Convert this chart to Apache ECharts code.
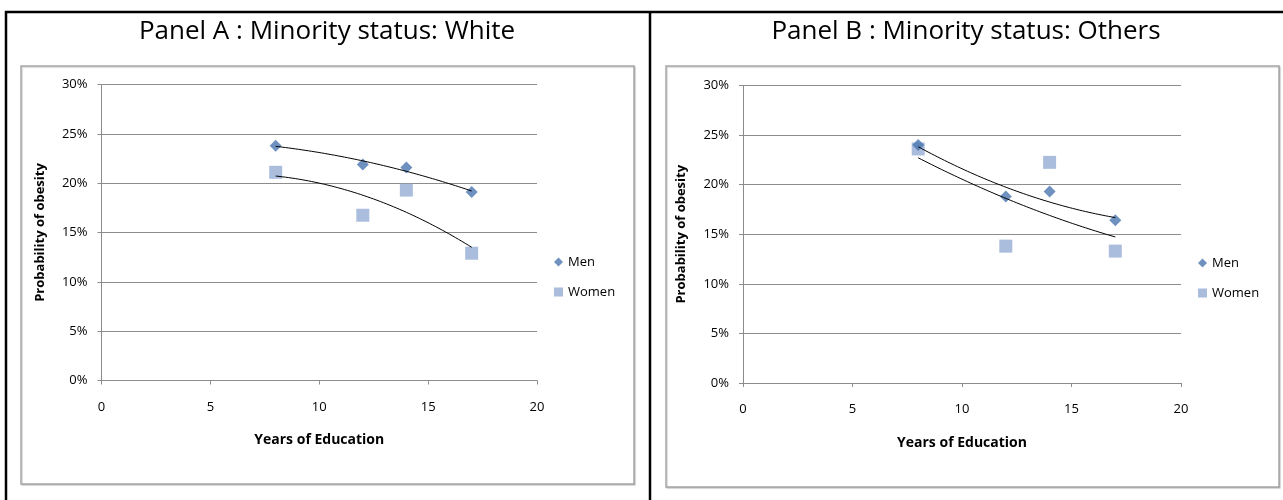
<!DOCTYPE html>
<html>
<head>
<meta charset="utf-8">
<script src="https://cdn.jsdelivr.net/npm/echarts@6/dist/echarts.min.js"></script>
<style>
  html, body { margin: 0; padding: 0; background: #fff; }
  #chart { width: 1283px; height: 500px; }
</style>
</head>
<body>
<div id="chart"></div>
<script>
// Years of schooling at which obesity probability was estimated
const years = [8, 12, 14, 17];

// Panel A (White): probability of obesity, %
const whiteMen = [23.8, 21.9, 21.6, 19.1];
const whiteWomen = [21.1, 16.75, 19.3, 12.9];

// Panel B (Others): probability of obesity, %
const otherMen = [24.0, 18.8, 19.3, 16.4];
const otherWomen = [23.6, 13.8, 22.25, 13.3];

const panelTitles = ['Panel A : Minority status: White', 'Panel B : Minority status: Others'];
const seriesNames = ['Men', 'Women'];
const xTitle = 'Years of Education';
const yTitle = 'Probability of obesity';

const FONT = '"Open Sans", "Noto Sans", sans-serif';
const MEN_COLOR = '#4A76B0';
const WOMEN_COLOR = '#96ADD5';
const GRID_GREY = '#8C8C8C';

// Second-order polynomial least-squares trendline, sampled between the first and last x
function quadTrend(xs, ys, steps) {
  const n = xs.length;
  const s = [0, 0, 0, 0, 0], t = [0, 0, 0];
  for (let i = 0; i < n; i++) {
    let p = 1;
    for (let k = 0; k <= 4; k++) { s[k] += p; if (k <= 2) t[k] += p * ys[i]; p *= xs[i]; }
  }
  // Solve the 3x3 normal equations with Cramer's rule
  const M = [[s[0], s[1], s[2]], [s[1], s[2], s[3]], [s[2], s[3], s[4]]];
  const det3 = m => m[0][0] * (m[1][1] * m[2][2] - m[1][2] * m[2][1])
    - m[0][1] * (m[1][0] * m[2][2] - m[1][2] * m[2][0])
    + m[0][2] * (m[1][0] * m[2][1] - m[1][1] * m[2][0]);
  const D = det3(M);
  const coef = [0, 1, 2].map(c => det3(M.map((row, r) => row.map((v, j) => j === c ? t[r] : v))) / D);
  const x0 = Math.min(...xs), x1 = Math.max(...xs);
  const out = [];
  for (let i = 0; i <= steps; i++) {
    const x = x0 + (x1 - x0) * i / steps;
    out.push([x, coef[0] + coef[1] * x + coef[2] * x * x]);
  }
  return out;
}

const pairs = (xs, ys) => xs.map((x, i) => [x, ys[i]]);

const grids = [
  { left: 101.5, top: 84.5, width: 435.5, height: 296 },
  { left: 743, top: 85.5, width: 438, height: 297.5 }
];

function xAxisFor(g) {
  return {
    gridIndex: g, type: 'value', min: 0, max: 20, interval: 5,
    name: xTitle, nameLocation: 'middle', nameGap: 53,
    nameTextStyle: { fontFamily: FONT, fontSize: 14, fontWeight: 'bold', color: '#000' },
    axisLine: { lineStyle: { color: GRID_GREY, width: 1 } },
    axisTick: { show: true, length: 4, lineStyle: { color: GRID_GREY } },
    axisLabel: { fontFamily: FONT, fontSize: 13, color: '#000', margin: 20 },
    splitLine: { show: false }
  };
}
function yAxisFor(g) {
  return {
    gridIndex: g, type: 'value', min: 0, max: 30, interval: 5,
    name: yTitle, nameLocation: 'middle', nameGap: 55, nameRotate: 90,
    nameTextStyle: { fontFamily: FONT, fontSize: 13, fontWeight: 'bold', color: '#000' },
    axisLine: { show: true, lineStyle: { color: GRID_GREY, width: 1 } },
    axisTick: { show: true, length: 4, lineStyle: { color: GRID_GREY } },
    axisLabel: { fontFamily: FONT, fontSize: 13, color: '#000', margin: 14, formatter: v => v + '%' },
    splitLine: { show: true, lineStyle: { color: GRID_GREY, width: 1 } }
  };
}

function panelSeries(g, men, women) {
  return [
    { name: 'Men', type: 'scatter', xAxisIndex: g, yAxisIndex: g, data: pairs(years, men),
      symbol: 'diamond', symbolSize: [12, 12], itemStyle: { color: MEN_COLOR }, z: 3 },
    { name: 'Women', type: 'scatter', xAxisIndex: g, yAxisIndex: g, data: pairs(years, women),
      symbol: 'rect', symbolSize: [13, 13], itemStyle: { color: WOMEN_COLOR }, z: 2 },
    { name: 'Men trend', type: 'line', xAxisIndex: g, yAxisIndex: g, data: quadTrend(years, men, 60),
      showSymbol: false, symbol: 'none', lineStyle: { color: '#000', width: 1 }, z: 4, silent: true },
    { name: 'Women trend', type: 'line', xAxisIndex: g, yAxisIndex: g, data: quadTrend(years, women, 60),
      showSymbol: false, symbol: 'none', lineStyle: { color: '#000', width: 1 }, z: 4, silent: true }
  ];
}

function legendAt(left, top) {
  return {
    left: left, top: top, orient: 'vertical', itemGap: 14, itemWidth: 9, itemHeight: 9,
    textStyle: { fontFamily: FONT, fontSize: 13, color: '#000', lineHeight: 16 },
    data: [
      { name: seriesNames[0], icon: 'diamond', itemStyle: { color: MEN_COLOR } },
      { name: seriesNames[1], icon: 'rect', itemStyle: { color: WOMEN_COLOR } }
    ],
    selectedMode: false
  };
}

// Black table rules, grey chart frames and the panel headings
const frameStyle = { fill: '#fff', stroke: '#A6A6A6', lineWidth: 1.5, shadowColor: 'rgba(0,0,0,0.18)', shadowOffsetX: 1, shadowOffsetY: 1, shadowBlur: 1 };
const headingStyle = t => ({ text: t, font: '26px ' + FONT, fill: '#000', textAlign: 'center', textVerticalAlign: 'middle' });
const graphics = [
  { type: 'rect', z: -10, shape: { x: 21, y: 66, width: 613, height: 418 }, style: frameStyle },
  { type: 'rect', z: -10, shape: { x: 666, y: 66, width: 613, height: 421 }, style: frameStyle },
  { type: 'line', z: 10, shape: { x1: 5, y1: 12, x2: 1283, y2: 12 }, style: { stroke: '#000', lineWidth: 2.5 } },
  { type: 'line', z: 10, shape: { x1: 6, y1: 11, x2: 6, y2: 500 }, style: { stroke: '#000', lineWidth: 2.5 } },
  { type: 'line', z: 10, shape: { x1: 650, y1: 11, x2: 650, y2: 500 }, style: { stroke: '#000', lineWidth: 2.5 } },
  { type: 'text', x: 327, y: 32, style: headingStyle(panelTitles[0]) },
  { type: 'text', x: 966, y: 32, style: headingStyle(panelTitles[1]) }
];

const chart = echarts.init(document.getElementById('chart'), null, { renderer: 'canvas' });
chart.setOption({
  animation: false,
  backgroundColor: '#fff',
  grid: grids,
  xAxis: [xAxisFor(0), xAxisFor(1)],
  yAxis: [yAxisFor(0), yAxisFor(1)],
  legend: [legendAt(549, 249), legendAt(1193, 250)],
  series: [...panelSeries(0, whiteMen, whiteWomen), ...panelSeries(1, otherMen, otherWomen)],
  graphic: graphics
});
</script>
</body>
</html>
